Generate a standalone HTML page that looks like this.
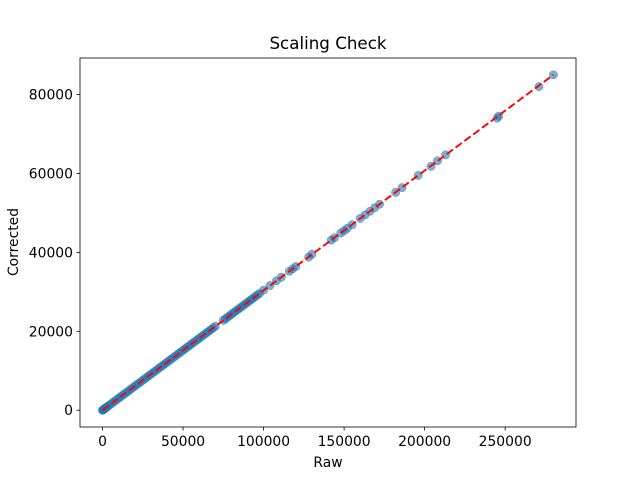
<!DOCTYPE html>
<html><head><meta charset="utf-8"><style>body{margin:0;background:#fff}svg{display:block;font-family:"DejaVu Sans","Liberation Sans",sans-serif}</style></head>
<body>
<svg id="chart" width="640" height="480">
<rect x="0" y="0" width="640" height="480" fill="#fff"/>
<g id="plot"></g>
<rect x="80" y="58" width="496" height="369" fill="none" stroke="#000" stroke-width="0.8"/>
<g id="xt" font-size="13.9" text-anchor="middle"></g>
<g id="yt" font-size="13.9" text-anchor="end"></g>
<text x="328" y="49" font-size="16.7" text-anchor="middle">Scaling Check</text>
<text x="328" y="467" font-size="13.9" text-anchor="middle">Raw</text>
<text x="18" y="242" font-size="13.9" text-anchor="middle" transform="rotate(-90 18 242)">Corrected</text>
</svg>
<script>
const rawValues=[0,200,300,500,700,1000,1500,2000,2500,3000,5000,7500,10000,12500,15000,17500,20000,22500,25000,27500,30000,32500,35000,37500,40000,42500,45000,47500,50000,52500,55000,57500,60000,62500,65000,67500,70000,75000,77500,80000,82500,85000,87500,90000,92500,95000,97500,100000,104000,108000,111000,116000,118000,120000,128000,130000,142000,144000,148000,150000,152000,155000,160000,163000,166000,169000,172000,182000,186000,196000,204000,208000,213000,245000,246000,271000,280000,
1250,3750,6250,8750,11250,13750,16250,18750,21250,23750,26250,28750,31250,33750,36250,38750,41250,43750,46250,48750,51250,53750,56250,58750,61250,63750,66250,68750,76250,78750,81250,83750,86250,88750,91250,93750,96250];
const correctedValues=[0,61,91,152,213,304,455,607,759,911,1518,2277,3036,3795,4554,5313,6072,6831,7590,8349,9108,9867,10626,11385,12144,12903,13662,14421,15180,15939,16698,17457,18216,18975,19734,20493,21252,22770,23529,24288,25047,25806,26565,27324,28083,28842,29601,30400,31600,32800,33700,35200,35800,36400,38800,39500,43100,43700,44900,45500,46100,47000,48600,49500,50400,51300,52200,55200,56400,59500,61800,63200,64700,74000,74500,82000,85000,
380,1139,1898,2657,3416,4175,4934,5693,6452,7211,7970,8729,9488,10247,11006,11765,12524,13283,14042,14801,15560,16319,17078,17837,18596,19355,20114,20873,23150,23909,24668,25427,26186,26945,27704,28463,29222];
const xTicks=[0,50000,100000,150000,200000,250000];
const yTicks=[0,20000,40000,60000,80000];
const lineX=[0,280000], lineY=[0,85000];
const NS="http://www.w3.org/2000/svg";
const xMin=-14000,xMax=294000,yMin=-4250,yMax=89250;
const X=v=>80+(v-xMin)/(xMax-xMin)*496;
const Y=v=>427-(v-yMin)/(yMax-yMin)*369;
const plot=document.getElementById('plot');
function mk(t,a,p){const e=document.createElementNS(NS,t);for(const k in a)e.setAttribute(k,a[k]);p.appendChild(e);return e;}
rawValues.forEach((r,i)=>{const c=mk('circle',{cx:X(r),cy:Y(correctedValues[i]),r:4.2,fill:'#1f77b4','fill-opacity':0.6,stroke:'#1f77b4','stroke-opacity':0.6,'stroke-width':0.5},plot);

});
const ln=mk('line',{x1:X(lineX[0]),y1:Y(lineY[0]),x2:X(lineX[1]),y2:Y(lineY[1]),stroke:'#ff0000','stroke-width':1.9,'stroke-dasharray':'7.7,3.3'},plot);


const xt=document.getElementById('xt'),yt=document.getElementById('yt');
xTicks.forEach(v=>{const x=X(v);const t=mk('line',{x1:x,x2:x,y1:427,y2:430.5,stroke:'#000','stroke-width':0.8},xt);


const l=mk('text',{x:x,y:446},xt);l.textContent=v;

});
yTicks.forEach(v=>{const y=Y(v);const t=mk('line',{x1:76.5,x2:80,y1:y,y2:y,stroke:'#000','stroke-width':0.8},yt);


const l=mk('text',{x:73,y:y+5},yt);l.textContent=v;

});
</script>
</body></html>
